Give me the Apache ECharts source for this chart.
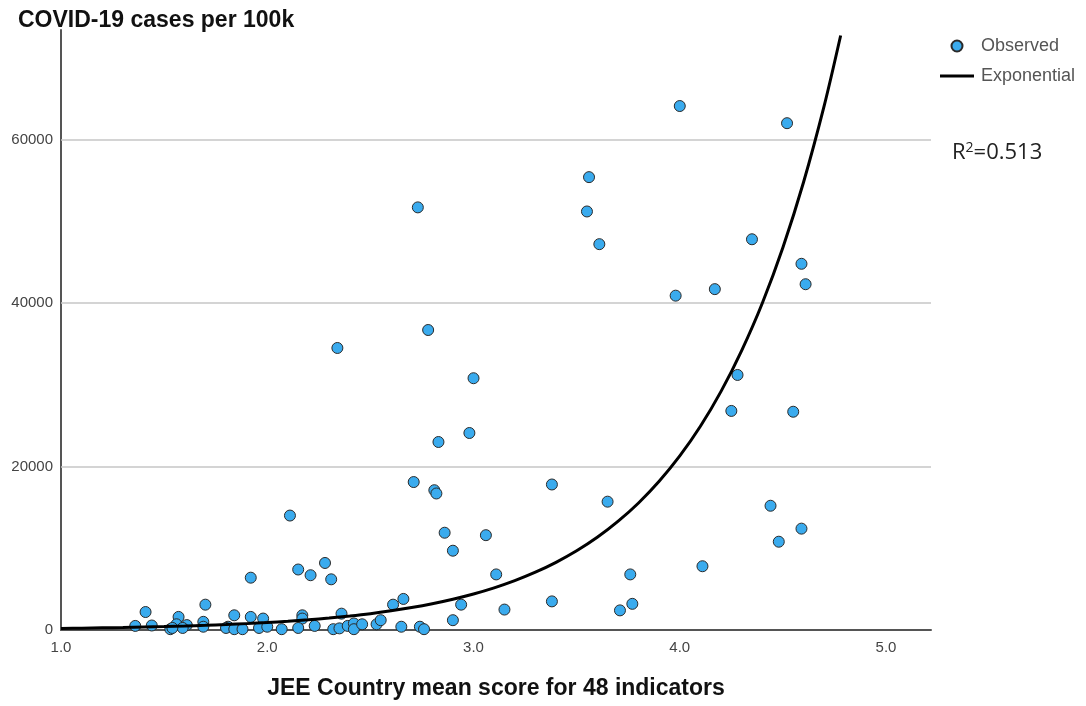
<!DOCTYPE html>
<html>
<head>
<meta charset="utf-8">
<script src="https://cdn.jsdelivr.net/npm/echarts@6/dist/echarts.min.js"></script>
<style>
  html, body { margin: 0; padding: 0; background: #fff; }
  #chart { width: 1086px; height: 706px; }
</style>
</head>
<body>
<div id="chart"></div>
<script>
// observed countries: JEE mean score (x) and COVID-19 cases per 100k (y)
var obsX = [
  4.00, 4.52, 3.56, 2.73, 3.55, 3.61, 4.35, 4.59, 4.61, 3.98,
  4.17, 2.78, 2.34, 3.00, 4.28, 2.98, 2.83, 4.25, 4.55, 3.38,
  2.71, 2.81, 2.82, 3.65, 4.44, 2.11, 2.86, 4.59, 3.06, 4.48,
  2.90, 2.28, 4.11, 2.15, 2.21, 3.11, 3.76, 2.31, 1.92,
  2.94, 3.38, 3.77, 3.71, 3.15, 2.66, 2.61, 2.90, 1.70, 1.41,
  1.57, 1.92, 1.84, 1.98, 2.17, 2.17, 2.36, 1.69, 1.69, 1.36,
  1.44, 1.53, 1.56, 1.61, 1.59, 1.54, 1.81, 1.80, 1.84, 1.88,
  1.96, 2.00, 2.07, 2.15, 2.23, 2.32, 2.35, 2.39, 2.42, 2.42,
  2.46, 2.53, 2.55, 2.65, 2.74, 2.76
];
var obsY = [
  64100, 62000, 55400, 51700, 51200, 47200, 47800, 44800, 42300, 40900,
  41700, 36700, 34500, 30800, 31200, 24100, 23000, 26800, 26700, 17800,
  18100, 17100, 16700, 15700, 15200, 14000, 11900, 12400, 11600, 10800,
  9700, 8200, 7800, 7400, 6700, 6800, 6800, 6200, 6400,
  3100, 3500, 3200, 2400, 2500, 3800, 3100, 1200, 3100, 2200,
  1600, 1600, 1800, 1400, 1800, 1400, 2000, 1000, 400, 500,
  550, 100, 700, 600, 250, 250, 400, 250, 100, 100,
  250, 400, 100, 250, 500, 100, 200, 500, 800, 100,
  700, 700, 1200, 400, 400, 100
];

// exponential fit curve
var curveX = [
  1.0, 1.1, 1.2, 1.3, 1.4, 1.5, 1.6, 1.7, 1.8, 1.9,
  2.0, 2.1, 2.2, 2.3, 2.4, 2.5, 2.6, 2.7, 2.8, 2.9,
  3.0, 3.1, 3.2, 3.3, 3.4, 3.5, 3.6, 3.7, 3.8, 3.9,
  4.0, 4.1, 4.2, 4.3, 4.4, 4.5, 4.6, 4.7, 4.78
];
var curveY = [
  190, 220, 260, 300, 355, 415, 485, 570, 665, 780,
  910, 1070, 1250, 1460, 1710, 2000, 2350, 2750, 3220, 3770,
  4410, 5160, 6040, 7070, 8280, 9690, 11340, 13280, 15540, 18190,
  21290, 24920, 29190, 34190, 39980, 46800, 54780, 64120, 72730
];

var yGrid = [20000, 40000, 60000];
var yLabels = [0, 20000, 40000, 60000];
var rSquared = '0.513';

var obsData = obsX.map(function (x, i) { return [x, obsY[i]]; });
var curveData = curveX.map(function (x, i) { return [x, curveY[i]]; });

var myChart = echarts.init(document.getElementById('chart'));
var option = {
  animation: false,
  textStyle: { fontFamily: 'Liberation Sans, Arial, sans-serif' },
  title: [
    {
      text: 'COVID-19 cases per 100k',
      left: 18,
      top: 9,
      padding: 0,
      textStyle: { fontSize: 23, fontWeight: 'bold', color: '#111' }
    },
    {
      text: '{r|R}{s|2}{r|=' + rSquared + '}',
      left: 952,
      top: 141,
      padding: 0,
      textStyle: {
        fontWeight: 'normal',
        rich: {
          r: { fontSize: 22, color: '#222', fontWeight: 'normal', fontFamily: 'Open Sans' },
          s: { fontSize: 14, color: '#222', fontWeight: 'normal', fontFamily: 'Open Sans', padding: [0, 0, 10, 0] }
        }
      }
    }
  ],
  legend: {
    data: [
      { name: 'Observed', icon: 'circle' },
      { name: 'Exponential', icon: 'path://M0,0 L34,0 L34,3 L0,3 Z', itemStyle: { color: '#000' } }
    ],
    orient: 'vertical',
    left: 940,
    top: 37,
    padding: 0,
    itemWidth: 34,
    itemHeight: 11,
    itemGap: 12,
    textStyle: { fontSize: 18, color: '#555', padding: [0, 0, 0, 2] }
  },
  grid: { left: 61, right: 155, top: 30, bottom: 76 },
  xAxis: {
    type: 'value',
    min: 1,
    max: 5.218,
    interval: 1,
    name: 'JEE Country mean score for 48 indicators',
    nameLocation: 'middle',
    nameGap: 47,
    nameTextStyle: { fontSize: 23, fontWeight: 'bold', color: '#111' },
    axisLine: { show: true, lineStyle: { color: '#555', width: 2 } },
    axisTick: { show: false },
    splitLine: { show: false },
    axisLabel: {
      showMaxLabel: false,
      fontSize: 15,
      color: '#444',
      margin: 10,
      formatter: function (v) { return v.toFixed(1); }
    }
  },
  yAxis: {
    type: 'value',
    min: 0,
    max: 73400,
    interval: 20000,
    axisLine: { show: true, lineStyle: { color: '#555', width: 2 } },
    axisTick: { show: false },
    splitLine: { show: false },
    axisLabel: {
      fontSize: 15,
      color: '#444',
      margin: 8,
      formatter: function (v) { return yLabels.indexOf(v) >= 0 ? String(v) : ''; }
    }
  },
  series: [
    {
      name: 'grid',
      type: 'line',
      data: [],
      z: 1,
      markLine: {
        silent: true,
        z: 1,
        symbol: 'none',
        label: { show: false },
        lineStyle: { color: '#c6c6c6', width: 1.5, type: 'solid' },
        data: yGrid.map(function (v) { return { yAxis: v }; })
      }
    },
    {
      name: 'Observed',
      type: 'scatter',
      data: obsData,
      symbolSize: 11,
      z: 2,
      itemStyle: { color: '#3aabee', borderColor: '#2a2a2a', borderWidth: 1, opacity: 1 }
    },
    {
      name: 'Exponential',
      type: 'line',
      data: curveData,
      smooth: 0.3,
      symbol: 'none',
      z: 3,
      lineStyle: { color: '#000', width: 3 },
      itemStyle: { color: '#000' }
    }
  ]
};
myChart.setOption(option);
</script>
</body>
</html>
